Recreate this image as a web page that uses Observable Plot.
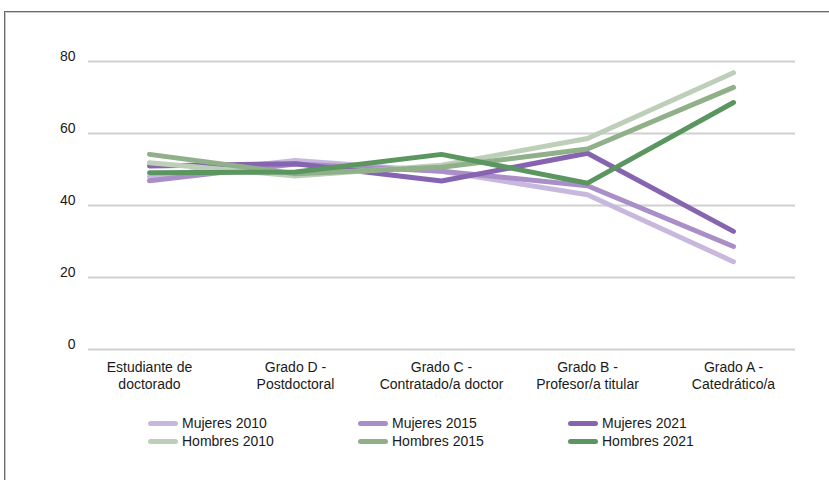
<!DOCTYPE html>
<html>
<head>
<meta charset="utf-8">
<script src="https://cdn.jsdelivr.net/npm/d3@7"></script>
<script src="https://cdn.jsdelivr.net/npm/@observablehq/plot@0.6"></script>
<style>
  html, body { margin: 0; padding: 0; background: #fff; }
  body { width: 829px; height: 480px; position: relative; overflow: hidden; font-family: "Liberation Sans", Arial, sans-serif; }
  #frame { position: absolute; left: 4px; top: 11px; width: 840px; height: 480px; border-top: 1px solid #6a6a6a; border-left: 1px solid #6a6a6a; box-shadow: inset 1px 1px 0 #c8c8c8; }
  #chart { position: absolute; left: 0; top: 0; }
  #legend { position: absolute; left: 0; top: 0; width: 829px; height: 480px; pointer-events: none; }
  .item { position: absolute; display: flex; align-items: center; font-size: 14px; color: #1a1a1a; white-space: nowrap; }
  .sw { width: 30px; height: 5px; border-radius: 3px; margin-right: 4px; }
</style>
</head>
<body>
<div id="frame"></div>
<div id="chart"></div>
<div id="legend"></div>
<script>
const categories = [
  "Estudiante de\ndoctorado",
  "Grado D -\nPostdoctoral",
  "Grado C -\nContratado/a doctor",
  "Grado B -\nProfesor/a titular",
  "Grado A -\nCatedrático/a"
];
const seriesNames = ["Mujeres 2010", "Mujeres 2015", "Mujeres 2021", "Hombres 2010", "Hombres 2015", "Hombres 2021"];
const seriesColors = ["#c9b8de", "#a98ec8", "#8764b0", "#bdcfb8", "#8fb088", "#5b9660"];
const mujeres2010 = [48.0, 52.5, 49.5, 43.0, 24.4];
const mujeres2015 = [46.9, 51.5, 49.5, 45.5, 28.6];
const mujeres2021 = [51.0, 51.6, 46.8, 54.5, 32.8];
const hombres2010 = [51.9, 48.2, 51.2, 58.6, 76.9];
const hombres2015 = [54.2, 48.8, 50.6, 55.7, 72.8];
const hombres2021 = [49.1, 49.3, 54.2, 46.2, 68.6];
const yTicks = [0, 20, 40, 60, 80];

const seriesValues = [mujeres2010, mujeres2015, mujeres2021, hombres2010, hombres2015, hombres2021];
const rows = [];
seriesNames.forEach((s, si) => {
  categories.forEach((c, ci) => rows.push({serie: s, cat: c, value: seriesValues[si][ci]}));
});

const W = 829, H = 400;
const plot = Plot.plot({
  width: W,
  height: H,
  marginTop: 61,
  marginBottom: 51,
  marginLeft: 88,
  marginRight: 34,
  style: {fontFamily: "'Liberation Sans', Arial, sans-serif", fontSize: "14px", color: "#1a1a1a", background: "transparent", overflow: "visible"},
  x: {type: "point", domain: categories, range: [148, 733], padding: 0, label: null},
  y: {domain: [0, 80], label: null},
  color: {domain: seriesNames, range: seriesColors},
  marks: [
    Plot.ruleY(yTicks, {stroke: "#d0d0d0", strokeWidth: 2}),
    Plot.axisY({ticks: yTicks, tickSize: 0, tickPadding: 13, label: null, dy: -5, fontSize: 14}),
    Plot.axisX({tickSize: 0, tickPadding: 11, label: null, lineHeight: 1.18, fontSize: 14}),
    Plot.line(rows, {x: "cat", y: "value", z: "serie", stroke: "serie", strokeWidth: 5, strokeLinecap: "round", strokeLinejoin: "round", curve: "linear"})
  ]
});
document.getElementById("chart").appendChild(plot);

const legend = document.getElementById("legend");
const colX = [148, 358, 568];
const rowY = [423, 441];
seriesNames.forEach((s, i) => {
  const d = document.createElement("div");
  d.className = "item";
  d.style.left = colX[i % 3] + "px";
  d.style.top = (rowY[Math.floor(i / 3)] - 9) + "px";
  d.style.height = "18px";
  const sw = document.createElement("div");
  sw.className = "sw";
  sw.style.background = seriesColors[i];
  const t = document.createElement("span");
  t.textContent = s;
  d.appendChild(sw);
  d.appendChild(t);
  legend.appendChild(d);
});
</script>
</body>
</html>
